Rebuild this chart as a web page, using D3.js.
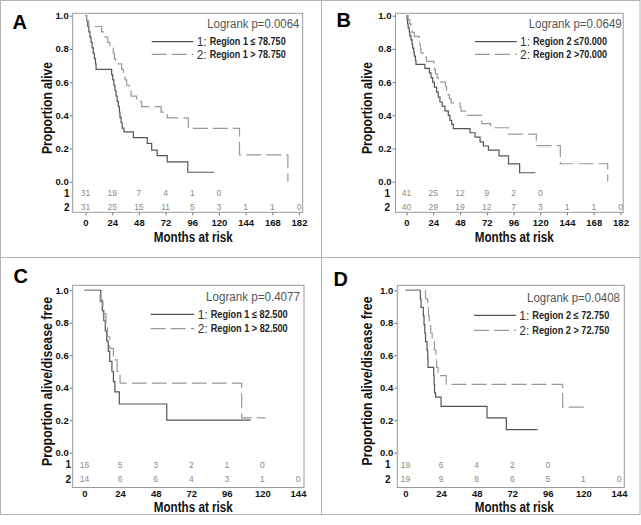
<!DOCTYPE html>
<html><head><meta charset="utf-8">
<script src="https://cdn.jsdelivr.net/npm/d3@7"></script>
<style>body{margin:0;background:#fff}svg{display:block}</style>
</head><body>
<svg id="c" width="641" height="525"></svg>
<script>
// ---------- DATA ----------
const monthTicksAB = [0,24,48,72,96,120,144,168,192];
const monthLabelsAB = ["0","24","48","72","96","120","144","168","182"];
const monthTicksCD = [0,24,48,72,96,120,144];
const monthLabelsCD = ["0","24","48","72","96","120","144"];
const propTicks = [0,0.2,0.4,0.6,0.8,1.0];

const riskA1 = [31,19,7,4,1,0];
const riskA2 = [31,25,15,11,5,3,1,1,0];
const riskB1 = [41,25,12,9,2,0];
const riskB2 = [40,29,19,12,7,3,1,1,0];
const riskC1 = [16,5,3,2,1,0];
const riskC2 = [14,6,6,4,3,1,0];
const riskD1 = [19,6,4,2,0];
const riskD2 = [19,9,8,6,5,1,0];

const survA1 = [[0,1],[1,0.968],[2,0.935],[3,0.903],[4,0.871],[5,0.839],[6,0.806],[7,0.774],[8,0.742],[9,0.71],[9.5,0.677],[23.5,0.645],[24.5,0.613],[25.5,0.581],[26.5,0.548],[27.5,0.516],[28.5,0.484],[29.5,0.452],[30.5,0.419],[31,0.387],[32,0.355],[33,0.323],[34.5,0.3],[43,0.265],[55.5,0.231],[59.5,0.19],[64.5,0.157],[73.5,0.119],[92,0.057],[115.6,0.057]];
const survA2 = [[0,1],[1,0.968],[3,0.935],[14.5,0.903],[17.5,0.871],[20,0.839],[22,0.806],[25,0.774],[26,0.742],[27,0.71],[32.5,0.677],[34,0.645],[35.5,0.613],[37,0.581],[39.5,0.548],[41,0.516],[46,0.484],[50.5,0.452],[68,0.419],[73.5,0.385],[92.5,0.321],[138.5,0.161],[182,0]];
const survB1 = [[0,1],[0.5,0.976],[1,0.951],[1.5,0.927],[2.5,0.902],[3,0.878],[4,0.854],[5,0.829],[5.5,0.805],[6.5,0.78],[7,0.756],[8,0.732],[8.5,0.707],[16.5,0.683],[20.5,0.655],[22,0.627],[23.5,0.6],[25,0.57],[27,0.54],[28.5,0.51],[30,0.48],[32,0.455],[34.5,0.427],[37.5,0.4],[39,0.37],[40.5,0.345],[42,0.32],[57,0.295],[61.5,0.268],[66,0.24],[69,0.215],[73.5,0.19],[83,0.155],[91.5,0.107],[101.5,0.054],[115.6,0.054]];
const survB2 = [[0,1],[1.5,0.975],[3,0.95],[4,0.925],[5,0.9],[7,0.875],[11.5,0.85],[12,0.825],[12.5,0.8],[13,0.775],[17.5,0.75],[18,0.725],[24.5,0.7],[25,0.675],[26,0.65],[27.5,0.625],[28.5,0.6],[35,0.575],[36,0.55],[37,0.525],[38.5,0.5],[40,0.475],[48,0.45],[49,0.425],[53,0.4],[67.5,0.35],[75.5,0.325],[91.5,0.287],[116.5,0.217],[138,0.108],[180.5,0]];
const survC1 = [[0,1],[11,0.9375],[12,0.875],[13,0.8125],[14,0.75],[15,0.6875],[16,0.625],[17,0.5625],[18.5,0.5],[19.5,0.4375],[20.5,0.375],[23.5,0.3],[55.5,0.2],[112,0.2]];
const survC2 = [[0,1],[10.5,0.929],[12.5,0.857],[14.5,0.786],[15.5,0.714],[17,0.643],[19.5,0.571],[22,0.5],[24,0.429],[106,0.214],[122,0.214]];
const survD1 = [[0,1],[10,0.947],[10.5,0.895],[12,0.842],[12.5,0.789],[13,0.737],[13.5,0.684],[14.5,0.632],[15,0.579],[15.2,0.526],[19,0.474],[19.3,0.421],[19.6,0.368],[20.3,0.342],[24,0.285],[55,0.214],[68,0.142],[89,0.142]];
const survD2 = [[0,1],[13.5,0.947],[15,0.895],[15.5,0.842],[16,0.789],[17,0.737],[18,0.684],[19.5,0.632],[20.5,0.579],[21,0.526],[22,0.474],[27.5,0.421],[106,0.281],[122,0.281]];

const legendA = ["Region 1 \u2264 78.750","Region 1 > 78.750"];
const legendB = ["Region 2 \u226470.000","Region 2 >70.000"];
const legendC = ["Region 1 \u2264 82.500","Region 1 > 82.500"];
const legendD = ["Region 2 \u2264 72.750","Region 2 > 72.750"];
const pvalues = ["Logrank p=0.0064","Logrank p=0.0649","Logrank p=0.4077","Logrank p=0.0408"];

// ---------- LAYOUT ----------
const svg = d3.select("#c");
const FONT = "'Liberation Sans', Arial, sans-serif";

// frame
svg.append("rect").attr("x",0.5).attr("y",0.5).attr("width",639.5).attr("height",514)
  .attr("fill","none").attr("stroke","#b4b4b4");
svg.append("line").attr("x1",321.5).attr("x2",321.5).attr("y1",0.5).attr("y2",514.5).attr("stroke","#b4b4b4");
svg.append("line").attr("x1",0.5).attr("x2",640).attr("y1",257.5).attr("y2",257.5).attr("stroke","#b4b4b4");

const panels = [
  {letter:"A", lx:12.5, ly:29, box:[72.7,13.3,302.7,212.3], xr:[85.5,299], dom:192, yr:[181.7,15.7],
   ticks:monthTicksAB, labels:monthLabelsAB, r1:riskA1, r2:riskA2, s1:survA1, s2:survA2,
   rowY:[193.3,207.3], rowX:66.7, tickSize:3, tickPad:4, xlabY:237, xlabX:193.3, ylab:"Proportion alive", ylabX:46.7, ylabY:108, ylabLen:92,
   leg:legendA, legLine:[151.7,193.3], legY:[41.7,54.3], legText:196.7, legLen:[76,76], p:pvalues[0], pRight:299.3, pY:24, pLen:92},
  {letter:"B", lx:336.5, ly:26.7, box:[395.5,13.3,623.2,212.3], xr:[406.5,620.5], dom:192, yr:[181.7,15.7],
   ticks:monthTicksAB, labels:monthLabelsAB, r1:riskB1, r2:riskB2, s1:survB1, s2:survB2,
   rowY:[193.3,207.3], rowX:387.2, tickSize:3, tickPad:4, xlabY:237, xlabX:514.3, ylab:"Proportion alive", ylabX:367, ylabY:108, ylabLen:92,
   leg:legendB, legLine:[475,516.7], legY:[41.7,54.3], legText:520, legLen:[74,74], p:pvalues[1], pRight:621.7, pY:24, pLen:93},
  {letter:"C", lx:13.5, ly:282.7, box:[72.7,285.3,304,487.5], xr:[84.5,298], dom:144, yr:[452.7,290.3],
   ticks:monthTicksCD, labels:monthLabelsCD, r1:riskC1, r2:riskC2, s1:survC1, s2:survC2,
   rowY:[464.7,479.3], rowX:68.3, tickSize:0, tickPad:2.5, xlabY:507, xlabX:193.3, ylab:"Proportion alive/disease free", ylabX:46.7, ylabY:381.5, ylabLen:169,
   leg:legendC, legLine:[150.7,194.3], legY:[314.3,328.7], legText:197.7, legLen:[77,77], p:pvalues[2], pRight:300, pY:297, pLen:94},
  {letter:"D", lx:333.5, ly:286, box:[397.3,285.3,624.3,487.5], xr:[405.5,619], dom:144, yr:[452.7,290.3],
   ticks:monthTicksCD, labels:monthLabelsCD, r1:riskD1, r2:riskD2, s1:survD1, s2:survD2,
   rowY:[464.7,479.3], rowX:387.7, tickSize:0, tickPad:2.5, xlabY:507, xlabX:514.3, ylab:"Proportion alive/disease free", ylabX:366.7, ylabY:381, ylabLen:169,
   leg:legendD, legLine:[474,516], legY:[315.3,330.3], legText:519.3, legLen:[77,77], p:pvalues[3], pRight:620, pY:298, pLen:93}
];

panels.forEach(cfg => {
  const g = svg.append("g");
  const x = d3.scaleLinear().domain([0,cfg.dom]).range(cfg.xr);
  const y = d3.scaleLinear().domain([0,1]).range(cfg.yr);
  const [bx0,by0,bx1,by1] = cfg.box;

  // letter
  g.append("text").attr("x",cfg.lx).attr("y",cfg.ly).text(cfg.letter)
    .attr("font-family",FONT).attr("font-weight","bold").attr("font-size",20).attr("fill","#000");

  // box
  g.append("rect").attr("x",bx0).attr("y",by0).attr("width",bx1-bx0).attr("height",by1-by0)
    .attr("fill","none").attr("stroke","#9a9a9a").attr("stroke-width",1);

  // y axis
  const ya = g.append("g").attr("transform",`translate(${bx0},0)`)
    .call(d3.axisLeft(y).tickValues(propTicks).tickFormat(d3.format(".1f")).tickSize(3).tickPadding(1));
  ya.select(".domain").remove();
  ya.selectAll("line").attr("stroke","#777");
  ya.selectAll("text").attr("font-family",FONT).attr("font-weight","bold").attr("font-size",9.5).attr("fill","#111");

  // x axis
  const xa = g.append("g").attr("transform",`translate(0,${by1})`)
    .call(d3.axisBottom(x).tickValues(cfg.ticks).tickFormat((d,i)=>cfg.labels[i]).tickSize(cfg.tickSize).tickPadding(cfg.tickPad));
  xa.select(".domain").remove();
  xa.selectAll("line").attr("stroke","#777");
  xa.selectAll("text").attr("font-family",FONT).attr("font-weight","bold").attr("font-size",9.5).attr("fill","#111");

  // at-risk table
  [cfg.r1,cfg.r2].forEach((row,ri) => {
    g.append("text").attr("x",cfg.rowX).attr("y",cfg.rowY[ri]).attr("dy","0.35em").attr("text-anchor","middle")
      .text(String(ri+1)).attr("font-family",FONT).attr("font-weight","bold").attr("font-size",10).attr("fill","#111");
    g.selectAll(null).data(row).enter().append("text")
      .attr("x",(d,i)=>x(cfg.ticks[i])).attr("y",cfg.rowY[ri]).attr("dy","0.35em").attr("text-anchor","middle")
      .text(d=>d).attr("font-family",FONT).attr("font-size",8.5).attr("fill","#8a8a8a");
  });

  // axis titles
  g.append("text").attr("x",cfg.xlabX).attr("y",cfg.xlabY).attr("dy","0.35em").attr("text-anchor","middle")
    .text("Months at risk").attr("font-family",FONT).attr("font-weight","bold").attr("font-size",14)
    .attr("textLength",79).attr("lengthAdjust","spacingAndGlyphs").attr("fill","#111");
  g.append("text").attr("transform",`translate(${cfg.ylabX},${cfg.ylabY}) rotate(-90)`).attr("dy","0.35em")
    .attr("text-anchor","middle").text(cfg.ylab).attr("font-family",FONT).attr("font-weight","bold").attr("font-size",14)
    .attr("textLength",cfg.ylabLen).attr("lengthAdjust","spacingAndGlyphs").attr("fill","#111");

  // curves
  const line = d3.line().x(d=>x(d[0])).y(d=>y(d[1])).curve(d3.curveStepAfter);
  g.append("path").datum(cfg.s1).attr("d",line).attr("fill","none").attr("stroke","#555").attr("stroke-width",1.2);
  g.append("path").datum(cfg.s2).attr("d",line).attr("fill","none").attr("stroke","#999").attr("stroke-width",1.2)
    .attr("stroke-dasharray","15,5");

  // logrank
  g.append("text").attr("x",cfg.pRight).attr("y",cfg.pY).attr("dy","0.35em").attr("text-anchor","end")
    .text(cfg.p).attr("font-family",FONT).attr("font-size",12.5).attr("fill","#555")
    .attr("textLength",cfg.pLen).attr("lengthAdjust","spacingAndGlyphs");

  // legend
  [0,1].forEach(i => {
    const ly = cfg.legY[i];
    g.append("line").attr("x1",cfg.legLine[0]).attr("x2",cfg.legLine[1]).attr("y1",ly).attr("y2",ly)
      .attr("stroke", i===0 ? "#555" : "#999").attr("stroke-width",1.2)
      .attr("stroke-dasharray", i===0 ? null : "15,5");
    g.append("text").attr("x",cfg.legText).attr("y",ly).attr("dy","0.35em").text((i+1)+":")
      .attr("font-family",FONT).attr("font-size",12).attr("fill","#333");
    g.append("text").attr("x",cfg.legText+13).attr("y",ly).attr("dy","0.35em").text(cfg.leg[i])
      .attr("font-family",FONT).attr("font-weight","bold").attr("font-size",10.5).attr("fill","#222")
      .attr("textLength",cfg.legLen[i]).attr("lengthAdjust","spacingAndGlyphs");
  });
});
</script>
</body></html>
